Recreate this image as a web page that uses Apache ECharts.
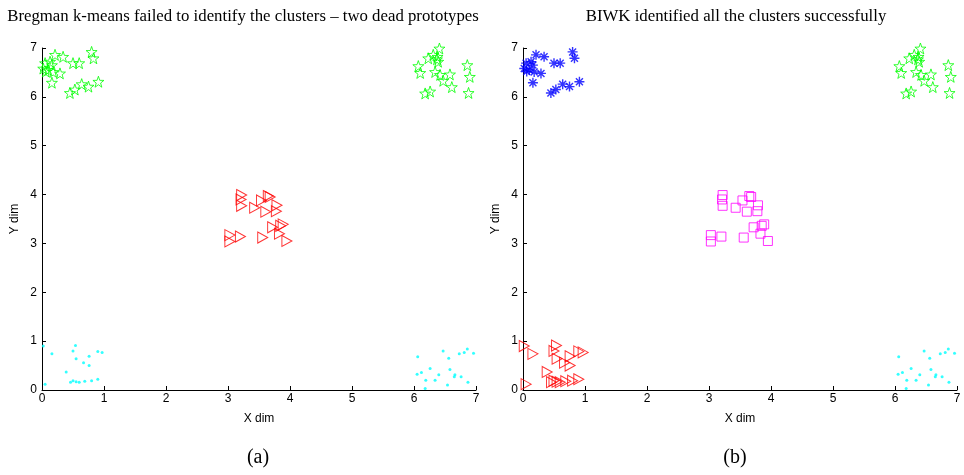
<!DOCTYPE html>
<html>
<head>
<meta charset="utf-8">
<script src="https://cdn.jsdelivr.net/npm/echarts@6/dist/echarts.min.js"></script>
<style>
  html, body { margin: 0; padding: 0; background: #fff; }
  #chart { width: 964px; height: 475px; }
</style>
</head>
<body>
<div id="chart"></div>
<script>
// same points in both panels, only the clustering differs
const topLeft = [[0.21,6.86],[0.34,6.82],[0.05,6.69],[0.13,6.72],[0.16,6.65],[0.02,6.58],[0.10,6.55],[0.18,6.51],[0.29,6.48],[0.16,6.29],[0.50,6.69],[0.60,6.69],[0.80,6.92],[0.83,6.79],[0.45,6.08],[0.53,6.15],[0.64,6.26],[0.75,6.21],[0.91,6.31],[0.06,6.52]];
const topRight = [[6.41,6.99],[6.85,7.01],[6.23,6.79],[6.31,6.86],[6.37,6.77],[6.39,6.72],[6.38,6.82],[6.07,6.63],[6.10,6.49],[6.34,6.51],[6.42,6.45],[6.58,6.46],[6.47,6.33],[6.61,6.20],[6.86,6.65],[6.90,6.41],[6.18,6.07],[6.26,6.11],[6.88,6.08]];
const center = [[3.22,3.99],[3.21,3.90],[3.22,3.77],[3.43,3.73],[3.54,3.88],[3.65,3.97],[3.68,3.95],[3.61,3.65],[3.79,3.78],[3.78,3.66],[3.72,3.33],[3.85,3.36],[3.89,3.39],[3.83,3.20],[3.03,3.17],[3.03,3.04],[3.20,3.14],[3.56,3.12],[3.95,3.05]];
const bottomLeft = [[0.02,0.90],[0.16,0.74],[0.05,0.12],[0.50,0.80],[0.54,0.91],[0.55,0.64],[0.67,0.56],[0.76,0.69],[0.76,0.50],[0.90,0.79],[0.97,0.77],[0.39,0.37],[0.46,0.16],[0.50,0.19],[0.55,0.17],[0.60,0.16],[0.69,0.18],[0.80,0.19],[0.90,0.22]];
const bottomRight = [[6.06,0.68],[6.05,0.32],[6.12,0.36],[6.19,0.20],[6.18,0.03],[6.26,0.44],[6.34,0.20],[6.40,0.31],[6.47,0.80],[6.56,0.65],[6.58,0.42],[6.66,0.31],[6.65,0.27],[6.54,0.10],[6.76,0.27],[6.73,0.74],[6.81,0.77],[6.86,0.84],[6.96,0.75],[6.87,0.16]];

const titleA = 'Bregman k-means failed to identify the clusters \u2013 two dead prototypes';
const titleB = 'BIWK identified all the clusters successfully';

const STAR = 'path://M10,0 L12.35,6.76 L19.51,6.91 L13.8,11.24 L15.88,18.09 L10,14 L4.12,18.09 L6.2,11.24 L0.49,6.91 L7.65,6.76 Z';
const TRI = 'path://M0,0 L10,5 L0,10 Z';
const ASTER = 'path://M5,0 L5,10 M0,5 L10,5 M1.5,1.5 L8.5,8.5 M8.5,1.5 L1.5,8.5';

const chart = echarts.init(document.getElementById('chart'));

function xAx(i) {
  return {
    gridIndex: i, type: 'value', min: 0, max: 7, interval: 1,
    name: 'X dim', nameLocation: 'middle', nameGap: 23,
    nameTextStyle: { fontFamily: 'Liberation Sans', fontSize: 12, color: '#000' },
    axisLine: { lineStyle: { color: '#000', width: 1 } },
    axisTick: { inside: true, length: 4, lineStyle: { color: '#000' } },
    axisLabel: { fontFamily: 'Liberation Sans', fontSize: 12, color: '#000', margin: 3 },
    splitLine: { show: false }
  };
}
function yAx(i) {
  return {
    gridIndex: i, type: 'value', min: 0, max: 7, interval: 1,
    name: 'Y dim', nameLocation: 'middle', nameGap: 21, nameRotate: 90,
    nameTextStyle: { fontFamily: 'Liberation Sans', fontSize: 12, color: '#000' },
    axisLine: { show: true, lineStyle: { color: '#000', width: 1 } },
    axisTick: { show: true, inside: true, length: 4, lineStyle: { color: '#000' } },
    axisLabel: { fontFamily: 'Liberation Sans', fontSize: 12, color: '#000', margin: 5 },
    splitLine: { show: false }
  };
}
function hollow(c, w) {
  return { color: 'rgba(0,0,0,0)', borderColor: c, borderWidth: w || 1 };
}
function sc(ax, data, symbol, size, style) {
  return {
    type: 'scatter', xAxisIndex: ax, yAxisIndex: ax, data: data,
    symbol: symbol, symbolSize: size, itemStyle: style, silent: true, animation: false
  };
}

function label(text, x, y, size) {
  return {
    type: 'text', x: x, y: y,
    style: { text: text, font: size + 'px "Liberation Serif"', fill: '#000',
             align: 'center', verticalAlign: 'middle', textAlign: 'center', textVerticalAlign: 'middle' }
  };
}

chart.setOption({
  backgroundColor: '#fff',
  grid: [
    { left: 42, top: 48, width: 434, height: 342 },
    { left: 523, top: 48, width: 434, height: 342 }
  ],
  xAxis: [xAx(0), xAx(1)],
  yAxis: [yAx(0), yAx(1)],
  graphic: [
    label(titleA, 243, 17, 16.8),
    label(titleB, 736, 17, 16.8),
    label('(a)', 258, 458, 20),
    label('(b)', 735, 458, 20)
  ],
  series: [
    sc(0, topLeft.concat(topRight), STAR, 11, hollow('#00ff00')),
    sc(0, center, TRI, [10, 11], hollow('#ff0000')),
    sc(0, bottomLeft.concat(bottomRight), 'circle', 3, { color: '#00ffff' }),
    sc(1, topLeft, ASTER, 10, hollow('#0000ff', 1.4)),
    sc(1, topRight, STAR, 11, hollow('#00ff00')),
    sc(1, center, 'rect', 9, hollow('#ff00ff')),
    sc(1, bottomLeft, TRI, [10, 11], hollow('#ff0000')),
    sc(1, bottomRight, 'circle', 3, { color: '#00ffff' })
  ]
});
</script>
</body>
</html>
